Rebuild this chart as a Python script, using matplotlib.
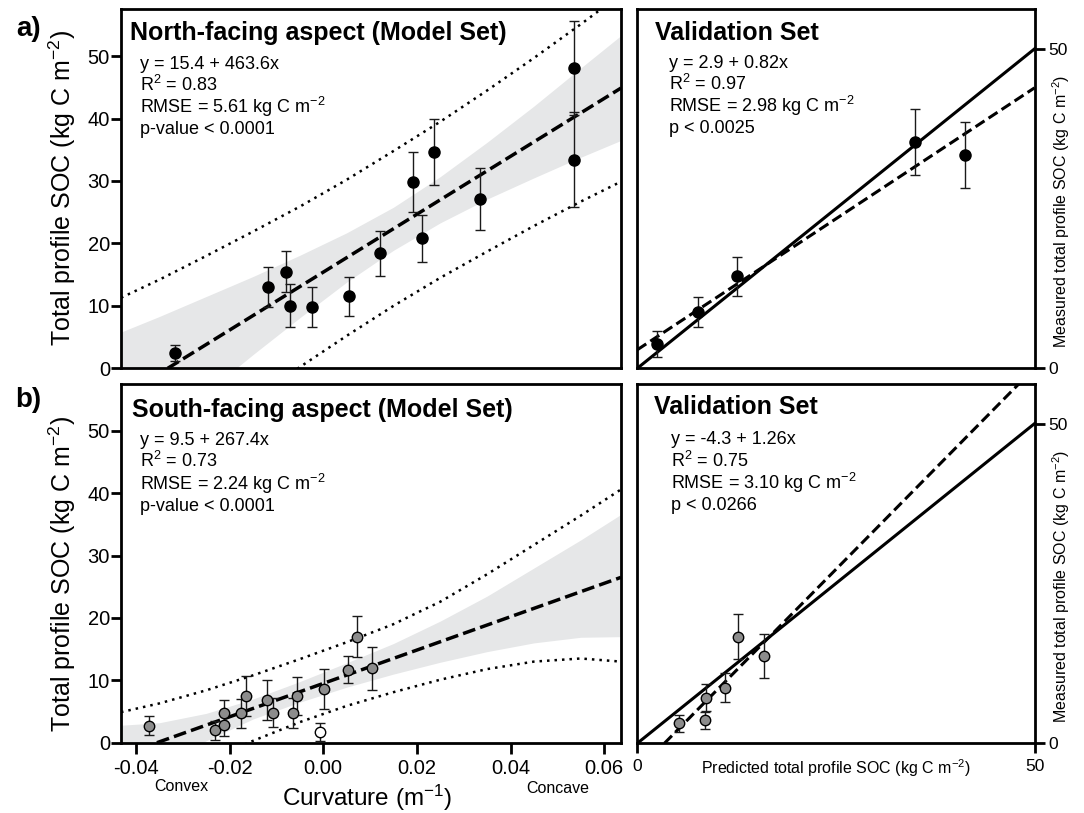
import numpy as np
import matplotlib
matplotlib.use("Agg")
import matplotlib.pyplot as plt

plt.rcParams['font.family'] = ['Liberation Sans', 'DejaVu Sans']
plt.rcParams['mathtext.default'] = 'regular'
plt.rcParams['axes.unicode_minus'] = False

# ---- north-facing model set (curvature vs SOC) ----
n_curv = [-0.0317, -0.0119, -0.0080, -0.0071, -0.0023, 0.0056, 0.0121,
          0.0192, 0.0210, 0.0237, 0.0335, 0.0535, 0.0535]
n_soc = [2.4, 13.0, 15.5, 10.0, 9.8, 11.5, 18.4, 29.9, 20.8, 34.6, 27.1, 48.1, 33.4]
n_err = [1.3, 3.25, 3.3, 3.45, 3.25, 3.2, 3.55, 4.8, 3.7, 5.25, 4.95, 7.5, 7.6]
n_a, n_b = 15.4, 463.6

# ---- south-facing model set ----
s_curv = [-0.0373, -0.0232, -0.0213, -0.0211, -0.0175, -0.0164, -0.0120,
          -0.0108, -0.0064, -0.0057, 0.0002, 0.0053, 0.0073, 0.0104]
s_soc = [2.7, 2.0, 4.8, 2.9, 4.7, 7.5, 6.8, 4.8, 4.8, 7.5, 8.6, 11.7, 17.0, 11.9]
s_err = [1.5, 1.5, 2.1, 1.8, 2.3, 3.2, 3.2, 2.3, 2.4, 3.1, 3.2, 2.2, 3.25, 3.5]
s_out_curv = [-0.0006]
s_out_soc = [1.7]
s_out_err = [1.5]
s_a, s_b = 9.5, 267.4

# band edges
band_x = [-0.0432, -0.035, -0.025, -0.015, -0.005, 0.005, 0.015, 0.025,
          0.035, 0.045, 0.055, 0.0636]
n_ci_lo = [-15.1, -10.0, -3.9, 2.2, 8.1, 13.8, 18.9, 23.3, 27.1, 30.5, 33.8, 36.5]
n_ci_hi = [5.8, 8.3, 11.5, 14.7, 18.1, 21.7, 25.8, 30.7, 36.2, 42.0, 48.1, 53.3]
n_pi_lo = [-20.5, -15.9, -10.4, -5.0, 0.2, 5.2, 10.0, 14.5, 18.7, 22.8, 26.7, 29.9]
n_pi_hi = [11.3, 14.2, 18.0, 21.9, 25.9, 30.2, 34.8, 39.5, 44.5, 49.7, 55.1, 59.9]

s_ci_lo = [-7.0, -3.5, 0.3, 3.8, 6.5, 8.9, 11.0, 12.9, 14.6, 16.0, 16.9, 17.0]
s_ci_hi = [2.8, 3.2, 4.7, 7.0, 9.8, 12.8, 15.9, 19.5, 23.5, 28.0, 32.5, 36.6]
s_pi_lo = [-9.0, -6.0, -3.0, 0.3, 3.3, 5.9, 8.1, 10.1, 11.8, 13.0, 13.5, 13.0]
s_pi_hi = [4.9, 6.3, 8.4, 10.8, 13.4, 16.1, 19.0, 22.6, 27.0, 31.7, 36.4, 40.6]

# ---- validation sets ----
vn_pred = [2.5, 7.6, 12.5, 34.9, 41.2]
vn_meas = [3.8, 8.8, 14.4, 35.4, 33.4]
vn_err = [2.1, 2.35, 3.1, 5.15, 5.15]
vn_a, vn_b = 2.9, 0.82

vs_pred = [5.2, 8.5, 8.6, 11.1, 12.7, 15.9]
vs_meas = [3.1, 3.6, 7.1, 8.7, 16.7, 13.7]
vs_err = [1.3, 1.3, 2.1, 2.25, 3.45, 3.45]
vs_a, vs_b = -4.3, 1.26

W, H = 1084, 813
fig = plt.figure(figsize=(W / 100, H / 100), dpi=100)


def box(x0, x1, ytop, ybot):
    return [x0 / W, 1 - ybot / H, (x1 - x0) / W, (ybot - ytop) / H]


ax_tl = fig.add_axes(box(121, 621, 9.3, 368.3))
ax_bl = fig.add_axes(box(121, 621, 384, 742.7))
ax_tr = fig.add_axes(box(637.3, 1034.5, 9.3, 368.3))
ax_br = fig.add_axes(box(637.3, 1034.5, 384, 743.3))

band_col = '#e6e7e8'
dash = dict(color='black', lw=2.5, ls='--', dashes=(3.7, 1.5), zorder=3)
dots = dict(color='black', lw=1.8, ls=(0, (1, 2)), zorder=2)
ebar = dict(fmt='o', ecolor='#1a1a1a', elinewidth=1.0, capsize=3.6,
            capthick=1.0, markeredgecolor='black', markeredgewidth=1.0, zorder=5)

# model panels
for ax, lo, hi, plo, phi, a, b in [
        (ax_tl, n_ci_lo, n_ci_hi, n_pi_lo, n_pi_hi, n_a, n_b),
        (ax_bl, s_ci_lo, s_ci_hi, s_pi_lo, s_pi_hi, s_a, s_b)]:
    ax.fill_between(band_x, lo, hi, color=band_col, lw=0, zorder=1)
    ax.plot(band_x, plo, **dots)
    ax.plot(band_x, phi, **dots)
    ax.axline((0, a), slope=b, **dash)
    ax.set_xlim(-0.0432, 0.0636)
    ax.set_ylim(0, 57.5)
    ax.set_yticks([0, 10, 20, 30, 40, 50])
    ax.tick_params(axis='y', direction='out', length=7, width=2, pad=1,
                   labelsize=14.5)
    ax.set_ylabel('Total profile SOC (kg C m$^{-2}$)', fontsize=18)

ax_tl.errorbar(n_curv, n_soc, yerr=n_err, markerfacecolor='black',
               markersize=8, **ebar)
ax_bl.errorbar(s_curv, s_soc, yerr=s_err, markerfacecolor='#8c8c8c',
               markersize=7.5, **ebar)
ax_bl.errorbar(s_out_curv, s_out_soc, yerr=s_out_err, markerfacecolor='white',
               markersize=7.5, **ebar)

ax_tl.yaxis.set_label_coords(-0.086, 0.502)
ax_bl.yaxis.set_label_coords(-0.086, 0.470)

ax_tl.tick_params(axis='x', bottom=False, labelbottom=False)
xt = [-0.04, -0.02, 0.0, 0.02, 0.04, 0.06]
ax_bl.set_xticks(xt)
ax_bl.set_xticklabels(['-0.04', '-0.02', '0.00', '0.02', '0.04', '0.06'])
ax_bl.tick_params(axis='x', direction='out', length=8, width=2, pad=4,
                  labelsize=14.5)

# validation panels
ax_tr.errorbar(vn_pred, vn_meas, yerr=vn_err, markerfacecolor='black',
               markersize=8, **ebar)
ax_br.errorbar(vs_pred, vs_meas, yerr=vs_err, markerfacecolor='#8c8c8c',
               markersize=7.5, **ebar)
for ax, a, b in [(ax_tr, vn_a, vn_b), (ax_br, vs_a, vs_b)]:
    ax.plot([0, 50], [0, 50], color='black', lw=2.2, zorder=3)
    ax.axline((0, a), slope=b, color='black', lw=2.2, ls='--',
              dashes=(3.5, 1.6), zorder=3)
    ax.set_xlim(0, 50)
    ax.set_ylim(0, 56.2)
    ax.yaxis.tick_right()
    ax.set_yticks([0, 50])
    ax.tick_params(axis='y', direction='out', length=7, width=2, pad=3,
                   labelsize=12.5)
    ax.text(1.066, 0.438, 'Measured total profile SOC (kg C m$^{-2}$)',
            transform=ax.transAxes, rotation=90, ha='center', va='center',
            fontsize=11.5)

ax_tr.tick_params(axis='x', bottom=False, labelbottom=False)
ax_br.set_xticks([0, 50])
ax_br.tick_params(axis='x', direction='out', length=7, width=2, pad=4,
                  labelsize=12.5)
ax_br.text(0.5, -0.069, 'Predicted total profile SOC (kg C m$^{-2}$)',
           transform=ax_br.transAxes, ha='center', va='center', fontsize=11.5)

for ax in [ax_tl, ax_bl, ax_tr, ax_br]:
    for sp in ax.spines.values():
        sp.set_linewidth(2)

# panel text
panel_txt = [
    (ax_tl, 'North-facing aspect (Model Set)', 0.0175, 0.9326, 0.0378,
     [0.8476, 0.7905, 0.7279, 0.6652],
     ['y = 15.4 + 463.6x', 'R$^2$ = 0.83', 'RMSE = 5.61 kg C m$^{-2}$',
      'p-value < 0.0001']),
    (ax_bl, 'South-facing aspect (Model Set)', 0.0222, 0.9264, 0.0378,
     [0.8414, 0.7851, 0.7210, 0.6577],
     ['y = 9.5 + 267.4x', 'R$^2$ = 0.73', 'RMSE = 2.24 kg C m$^{-2}$',
      'p-value < 0.0001']),
    (ax_tr, 'Validation Set', 0.0445, 0.933, 0.0805,
     [0.850, 0.792, 0.731, 0.669],
     ['y = 2.9 + 0.82x', 'R$^2$ = 0.97', 'RMSE = 2.98 kg C m$^{-2}$',
      'p < 0.0025']),
    (ax_br, 'Validation Set', 0.0428, 0.936, 0.084,
     [0.846, 0.7865, 0.7236, 0.663],
     ['y = -4.3 + 1.26x', 'R$^2$ = 0.75', 'RMSE = 3.10 kg C m$^{-2}$',
      'p < 0.0266']),
]
for ax, title, tx, ty, lx, lys, lines in panel_txt:
    ax.text(tx, ty, title, transform=ax.transAxes, fontsize=18,
            fontweight='bold', ha='left', va='center')
    for ly, s in zip(lys, lines):
        ax.text(lx, ly, s, transform=ax.transAxes, fontsize=13,
                ha='left', va='center')

fig.text(29 / W, 1 - 29 / H, 'a)', fontsize=20, fontweight='bold',
         ha='center', va='center')
fig.text(28 / W, 1 - 400 / H, 'b)', fontsize=20, fontweight='bold',
         ha='center', va='center')
fig.text(181 / W, 1 - 786.5 / H, 'Convex', fontsize=11.5, ha='center', va='center')
fig.text(558 / W, 1 - 788 / H, 'Concave', fontsize=11.5, ha='center', va='center')
fig.text(367.6 / W, 1 - 798 / H, 'Curvature (m$^{-1}$)', fontsize=17.5,
         ha='center', va='center')

fig.savefig('out.png', dpi=100)
